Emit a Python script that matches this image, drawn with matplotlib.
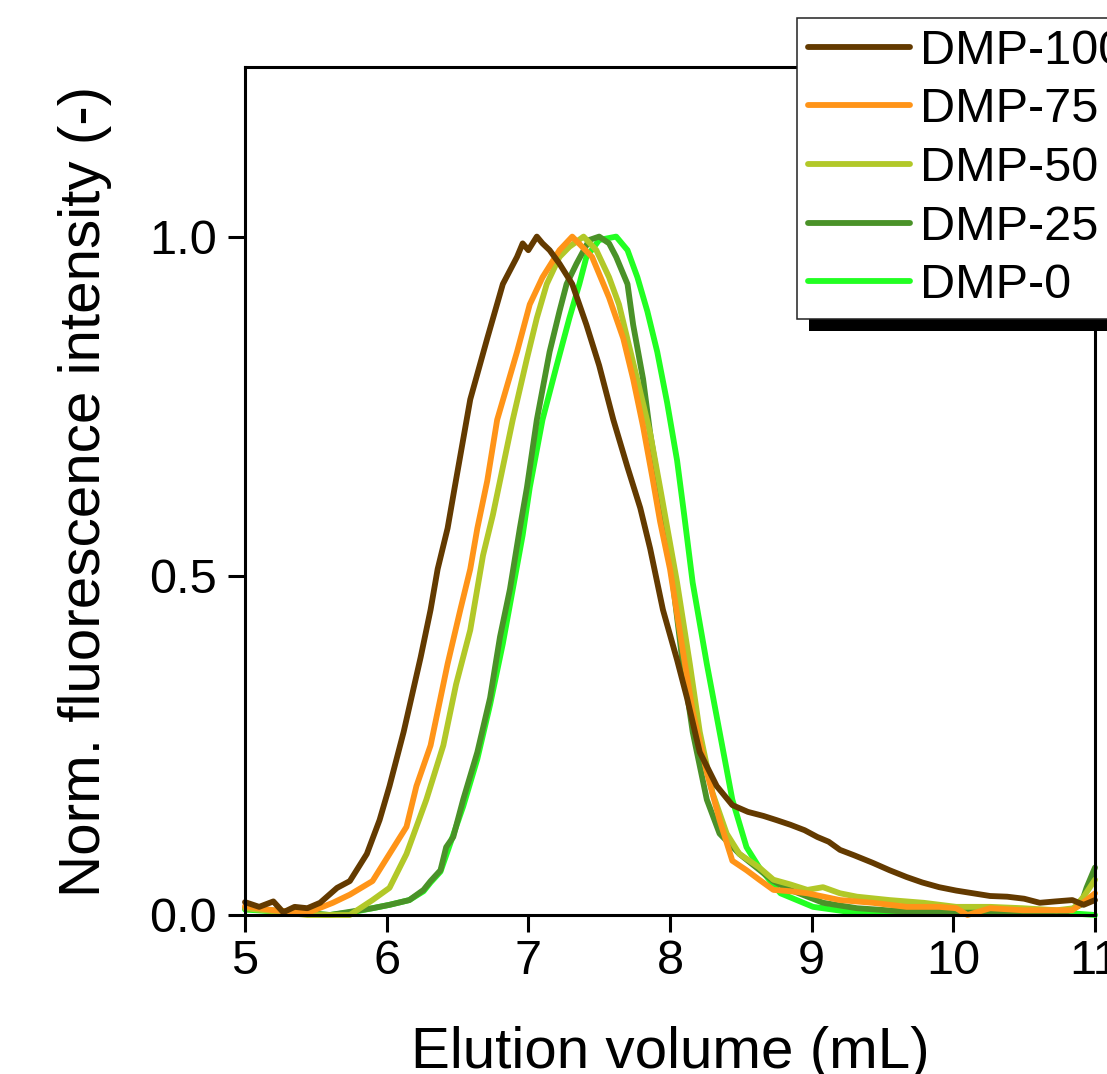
import matplotlib
matplotlib.use("Agg")
import matplotlib.pyplot as plt
from matplotlib.patches import Rectangle

plt.rcParams["font.family"] = ["Liberation Sans", "DejaVu Sans"]

labels = ["DMP-100", "DMP-75", "DMP-50", "DMP-25", "DMP-0"]
colors = ["#633a00", "#ff9418", "#b2c828", "#4a9228", "#22ff22"]

x_dmp100 = [5.0, 5.1, 5.2, 5.27, 5.35, 5.44, 5.53, 5.65, 5.74, 5.86, 5.95, 6.02, 6.12,
            6.24, 6.31, 6.36, 6.43, 6.48, 6.59, 6.71, 6.82, 6.92, 6.96, 7.0, 7.06, 7.1,
            7.15, 7.22, 7.31, 7.41, 7.50, 7.60, 7.70, 7.79, 7.86, 7.95, 8.05, 8.12, 8.21,
            8.33, 8.44, 8.55, 8.66, 8.75, 8.85, 8.95, 9.04, 9.12, 9.20, 9.30, 9.43, 9.55,
            9.67, 9.78, 9.90, 10.02, 10.14, 10.26, 10.38, 10.50, 10.61, 10.72, 10.84,
            10.92, 11.0]
y_dmp100 = [0.019, 0.012, 0.02, 0.004, 0.012, 0.01, 0.018, 0.04, 0.05, 0.09, 0.14, 0.19,
            0.27, 0.38, 0.45, 0.51, 0.57, 0.63, 0.76, 0.85, 0.93, 0.97, 0.99, 0.98, 1.0,
            0.99, 0.98, 0.96, 0.93, 0.87, 0.81, 0.73, 0.66, 0.60, 0.54, 0.45, 0.376, 0.32,
            0.24, 0.19, 0.162, 0.152, 0.146, 0.14, 0.133, 0.125, 0.115, 0.108, 0.096,
            0.088, 0.077, 0.066, 0.056, 0.048, 0.041, 0.036, 0.032, 0.028, 0.027, 0.024,
            0.018, 0.02, 0.022, 0.015, 0.022]

x_dmp75 = [5.0, 5.2, 5.44, 5.62, 5.74, 5.9, 6.02, 6.14, 6.21, 6.31, 6.43, 6.52, 6.59,
           6.64, 6.71, 6.78, 6.92, 7.01, 7.10, 7.22, 7.31, 7.45, 7.57, 7.67, 7.74, 7.81,
           7.88, 7.93, 8.0, 8.09, 8.16, 8.26, 8.35, 8.44, 8.54, 8.63, 8.73, 8.85, 8.97,
           9.2, 9.43, 9.67, 9.9, 10.02, 10.1, 10.26, 10.49, 10.73, 10.84, 10.94, 11.0]
y_dmp75 = [0.013, 0.007, 0.003, 0.018, 0.03, 0.05, 0.09, 0.13, 0.19, 0.25, 0.37, 0.45,
           0.51, 0.57, 0.64, 0.73, 0.83, 0.90, 0.94, 0.98, 1.0, 0.97, 0.91, 0.85, 0.79,
           0.72, 0.64, 0.58, 0.51, 0.39, 0.30, 0.21, 0.14, 0.08, 0.066, 0.052, 0.037,
           0.035, 0.032, 0.022, 0.018, 0.012, 0.012, 0.01, 0.0, 0.01, 0.007, 0.007,
           0.007, 0.022, 0.032]

x_dmp50 = [5.0, 5.44, 5.74, 5.9, 6.02, 6.14, 6.28, 6.40, 6.49, 6.59, 6.68, 6.75, 6.80,
           6.89, 6.99, 7.06, 7.13, 7.22, 7.29, 7.39, 7.48, 7.57, 7.64, 7.71, 7.78, 7.86,
           7.93, 8.05, 8.14, 8.21, 8.30, 8.40, 8.49, 8.63, 8.73, 8.85, 8.97, 9.08, 9.2,
           9.32, 9.55, 9.79, 10.02, 10.26, 10.49, 10.73, 10.85, 10.92, 11.0]
y_dmp50 = [0.01, 0.0, 0.0, 0.022, 0.04, 0.09, 0.17, 0.25, 0.34, 0.42, 0.53, 0.59, 0.64,
           0.73, 0.82, 0.88, 0.93, 0.97, 0.985, 1.0, 0.98, 0.94, 0.90, 0.84, 0.78, 0.71,
           0.63, 0.49, 0.37, 0.27, 0.18, 0.12, 0.09, 0.07, 0.052, 0.045, 0.037, 0.041,
           0.032, 0.027, 0.022, 0.018, 0.012, 0.012, 0.01, 0.007, 0.01, 0.027, 0.052]

x_dmp25 = [5.0, 5.3, 5.6, 5.75, 5.9, 6.02, 6.16, 6.26, 6.31, 6.38, 6.42, 6.47, 6.54,
           6.64, 6.73, 6.80, 6.87, 6.94, 6.99, 7.06, 7.15, 7.22, 7.27, 7.34, 7.43, 7.50,
           7.57, 7.62, 7.70, 7.74, 7.81, 7.86, 7.93, 8.02, 8.09, 8.16, 8.26, 8.35, 8.49,
           8.61, 8.73, 8.85, 9.08, 9.32, 9.6, 9.9, 10.2, 10.5, 10.8, 10.9, 10.94, 11.0]
y_dmp25 = [0.01, 0.005, 0.0, 0.005, 0.01, 0.015, 0.022, 0.037, 0.05, 0.066, 0.10, 0.115,
           0.17, 0.24, 0.32, 0.41, 0.48, 0.57, 0.63, 0.73, 0.83, 0.89, 0.93, 0.96, 0.995,
           1.0, 0.99, 0.97, 0.93, 0.87, 0.79, 0.71, 0.62, 0.49, 0.37, 0.27, 0.17, 0.12,
           0.09, 0.07, 0.05, 0.037, 0.018, 0.01, 0.006, 0.005, 0.005, 0.004, 0.005,
           0.015, 0.04, 0.07]

x_dmp0 = [5.0, 5.3, 5.6, 5.75, 5.9, 6.02, 6.16, 6.26, 6.31, 6.38, 6.44, 6.54, 6.64,
          6.73, 6.82, 6.89, 6.96, 7.01, 7.10, 7.20, 7.29, 7.36, 7.41, 7.50, 7.62, 7.70,
          7.77, 7.84, 7.91, 7.98, 8.05, 8.10, 8.16, 8.26, 8.35, 8.44, 8.54, 8.63, 8.78,
          9.01, 9.32, 9.6, 9.9, 10.2, 10.5, 10.8, 11.0]
y_dmp0 = [0.008, 0.004, 0.0, 0.004, 0.01, 0.015, 0.022, 0.035, 0.048, 0.064, 0.10, 0.16,
          0.23, 0.31, 0.40, 0.48, 0.56, 0.63, 0.73, 0.81, 0.88, 0.93, 0.97, 0.995, 1.0,
          0.98, 0.94, 0.89, 0.83, 0.755, 0.67, 0.59, 0.49, 0.37, 0.27, 0.17, 0.10, 0.07,
          0.032, 0.012, 0.003, 0.003, 0.002, 0.003, 0.002, 0.003, 0.0]

series_x = [x_dmp100, x_dmp75, x_dmp50, x_dmp25, x_dmp0]
series_y = [y_dmp100, y_dmp75, y_dmp50, y_dmp25, y_dmp0]

x_ticks = [5, 6, 7, 8, 9, 10, 11]
y_ticks = [0.0, 0.5, 1.0]

fig = plt.figure(figsize=(11.07, 10.74), dpi=100)
ax = fig.add_axes([245 / 1107, 159 / 1074, 850 / 1107, 848 / 1074])

# draw DMP-0 first so DMP-100 ends up on top
handles = {}
for xs, ys, lab, col in reversed(list(zip(series_x, series_y, labels, colors))):
    (ln,) = ax.plot(xs, ys, color=col, lw=4.2, label=lab, clip_on=False,
                    solid_joinstyle="round", solid_capstyle="round")
    handles[lab] = ln

ax.set_xlim(5, 11)
ax.set_ylim(0, 1.25)
ax.set_xticks(x_ticks)
ax.set_yticks(y_ticks)
ax.set_yticklabels(["0.0", "0.5", "1.0"])

for sp in ax.spines.values():
    sp.set_linewidth(2.2)
ax.tick_params(direction="out", length=12, width=2.2, labelsize=35)
ax.tick_params(axis="x", pad=5)
ax.tick_params(axis="y", pad=8)

ax.set_xlabel("Elution volume (mL)", fontsize=42)
ax.set_ylabel("Norm. fluorescence intensity (-)", fontsize=42)
ax.xaxis.set_label_coords(0.5, -0.131)
ax.yaxis.set_label_coords(-0.157, 0.5)

leg = ax.legend([handles[l] for l in labels], labels, loc="upper left",
                bbox_to_anchor=(797 / 1107, 1 - 18 / 1074),
                bbox_transform=fig.transFigure, borderaxespad=0,
                fontsize=35, frameon=True, fancybox=False, framealpha=1,
                edgecolor="#222222", borderpad=0.22, labelspacing=0.28,
                handlelength=2.1, handletextpad=0.2)
leg.get_frame().set_linewidth(1.1)
leg.set_zorder(6)

# offset black shadow under the legend box, placed from the drawn legend frame
fig.canvas.draw()
bb = leg.get_frame().get_window_extent(fig.canvas.get_renderer())
fw, fh = fig.bbox.width, fig.bbox.height
shadow = Rectangle(((bb.x0 + 12) / fw, (bb.y0 - 12) / fh), 0.5, bb.height / fh,
                   transform=fig.transFigure, facecolor="black", edgecolor="none",
                   clip_on=False, zorder=5.5)
ax.add_patch(shadow)

fig.savefig("out.png", dpi=100)
